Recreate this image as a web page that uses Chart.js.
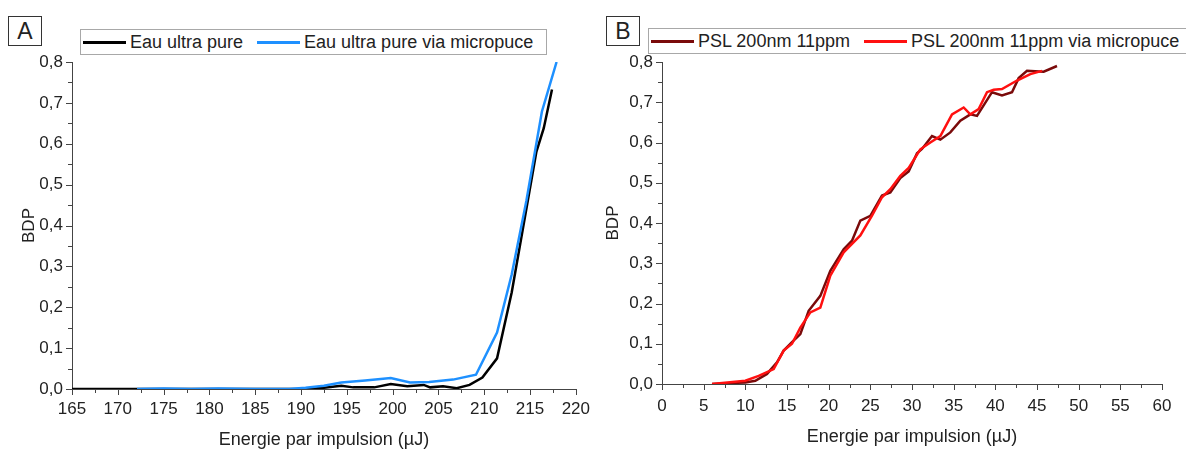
<!DOCTYPE html>
<html>
<head>
<meta charset="utf-8">
<script src="https://cdn.jsdelivr.net/npm/chart.js@4.4.1/dist/chart.umd.min.js"></script>
<style>
  html, body { margin: 0; padding: 0; background: #fff; }
  body { width: 1186px; height: 452px; position: relative; overflow: hidden; font-family: 'Liberation Sans', Arial, sans-serif; color: #222; }
  .panel { position: absolute; top: 0; height: 452px; }
  .tag { position: absolute; border: 1px solid #333; width: 32px; height: 28px; font-size: 23px; line-height: 28px; text-align: center; background: #fff; }
  .legend { position: absolute; height: 24px; border: 1px solid #a8a8a8; background: #fff; display: flex; align-items: center; white-space: nowrap; font-size: 18px; z-index: 2; }
  .legend .item { display: flex; align-items: center; margin-right: 12px; }
  .legend .sw { display: inline-block; width: 43px; height: 3px; margin: 0 4px 0 2px; }
</style>
</head>
<body>
<div class="panel" style="left:0;width:600px"><canvas id="chartA"></canvas></div>
<div class="panel" style="left:600px;width:586px"><canvas id="chartB"></canvas></div>
<div class="tag" style="left:8px;top:16px">A</div>
<div class="tag" style="left:606px;top:16px">B</div>
<div class="legend" id="legendA" style="left:80px;top:29px;width:465px"></div>
<div class="legend" id="legendB" style="left:648px;top:28px;width:560px"></div>
<script>
// Panel A - eau ultra pure
const eauNames = ['Eau ultra pure', 'Eau ultra pure via micropuce'];
const eauX = [165, 168, 172, 175, 180, 185, 188, 190.8, 192.5, 194.4, 195.7, 198, 199.8, 201.6, 203.4, 204.1, 205.5, 207, 208.4, 209.8, 211.4, 213, 215.7, 216.5, 217.4];
const eauY = [0, 0, 0, 0, 0, 0, 0, 0, 0.003, 0.008, 0.004, 0.004, 0.012, 0.007, 0.01, 0.004, 0.007, 0.002, 0.01, 0.028, 0.075, 0.236, 0.581, 0.638, 0.733];
const puceX = [172.1, 175, 178, 181, 185, 188.7, 190.5, 192.5, 194.4, 197, 199.8, 201.9, 204, 206.6, 209.1, 211.4, 213, 214.6, 216.3, 217.9];
const puceY = [0, 0.001, 0, 0.001, 0, 0, 0.003, 0.008, 0.016, 0.021, 0.027, 0.016, 0.017, 0.023, 0.035, 0.138, 0.28, 0.46, 0.679, 0.80];

// Panel B - PSL 200nm 11ppm
const pslNames = ['PSL 200nm 11ppm', 'PSL 200nm 11ppm via micropuce'];
const pslX = [6, 10, 11.2, 12.6, 13.8, 14.6, 15.6, 16.6, 17.6, 19, 20.2, 21.8, 22.8, 23.8, 25, 26.4, 27.4, 28.6, 29.6, 30.6, 31.2, 32.4, 33.4, 34.6, 35.8, 37, 37.8, 39.6, 40.8, 42, 42.8, 43.8, 45.8, 47.4];
const pslY = [0, 0.004, 0.008, 0.025, 0.054, 0.083, 0.104, 0.124, 0.182, 0.219, 0.281, 0.335, 0.356, 0.406, 0.418, 0.468, 0.476, 0.512, 0.528, 0.573, 0.584, 0.616, 0.607, 0.625, 0.654, 0.67, 0.666, 0.725, 0.717, 0.725, 0.76, 0.778, 0.776, 0.79];
const pslPuceX = [6, 10, 11.6, 13.4, 14.6, 15.6, 16.6, 17.8, 19, 20.2, 21.8, 23.8, 25.2, 26.4, 27.4, 28.6, 29.6, 31, 32.2, 33.4, 34.8, 36.2, 37, 38, 39, 39.8, 40.8, 42.6, 44.2, 45.6];
const pslPuceY = [0, 0.008, 0.02, 0.037, 0.083, 0.1, 0.14, 0.178, 0.19, 0.269, 0.327, 0.369, 0.418, 0.464, 0.484, 0.517, 0.537, 0.583, 0.6, 0.616, 0.67, 0.687, 0.67, 0.683, 0.725, 0.731, 0.733, 0.754, 0.77, 0.778];

const colorsA = ['#000000', '#1e90ff'];
const colorsB = ['#7a0a0a', '#ff1010'];
const FONT = "'Liberation Sans', Arial, sans-serif";

function pts(xs, ys) {
    return xs.map((x, i) => ({ x: x, y: ys[i] }));
}

function isMajor(v, step) {
    const r = v / step;
    return Math.abs(r - Math.round(r)) < 1e-6;
}

// petits traits de graduation (majeurs + mineurs)
const tickMarks = {
    id: 'tickMarks',
    afterDraw(chart) {
        const ctx = chart.ctx;
        ctx.save();
        ctx.strokeStyle = '#444';
        ctx.lineWidth = 1;
        const xs = chart.scales.x, ys = chart.scales.y;
        xs.ticks.forEach(t => {
            const p = Math.round(xs.getPixelForValue(t.value)) + 0.5;
            const len = isMajor(t.value, 5) ? 6 : 4;
            ctx.beginPath();
            ctx.moveTo(p, xs.top);
            ctx.lineTo(p, xs.top + len);
            ctx.stroke();
        });
        ys.ticks.forEach(t => {
            const p = Math.round(ys.getPixelForValue(t.value)) + 0.5;
            const len = isMajor(t.value, 0.1) ? 6 : 4;
            ctx.beginPath();
            ctx.moveTo(ys.right, p);
            ctx.lineTo(ys.right - len, p);
            ctx.stroke();
        });
        ctx.restore();
    }
};

function makeChart(id, names, series, colors, xMin, xMax, sizes) {
    const datasets = series.map((s, i) => ({
        label: names[i],
        data: pts(s[0], s[1]),
        borderColor: colors[i],
        borderWidth: 2.5,
        pointRadius: 0,
        tension: 0,
        fill: false,
        order: series.length - i
    }));

    return new Chart(document.getElementById(id), {
        type: 'line',
        data: { datasets: datasets },
        plugins: [tickMarks],
        options: {
            responsive: false,
            animation: false,
            events: [],
            layout: { padding: { top: 62, right: sizes.right, left: 0, bottom: 0 } },
            plugins: { legend: { display: false }, tooltip: { enabled: false } },
            scales: {
                x: {
                    type: 'linear',
                    min: xMin,
                    max: xMax,
                    border: { display: true, color: '#444', width: 1 },
                    grid: { display: false, drawTicks: false },
                    ticks: {
                        stepSize: 2.5,
                        autoSkip: false,
                        maxRotation: 0,
                        padding: sizes.xPad,
                        color: '#222',
                        font: { family: FONT, size: 17 },
                        callback: v => isMajor(v, 5) ? String(Math.round(v)) : ''
                    },
                    title: {
                        display: true,
                        text: 'Energie par impulsion (µJ)',
                        color: '#222',
                        font: { family: FONT, size: 18 },
                        padding: { top: 0, bottom: sizes.titlePad }
                    },
                    afterFit: s => { s.height = sizes.xHeight; }
                },
                y: {
                    min: 0,
                    max: 0.8,
                    border: { display: true, color: '#444', width: 1 },
                    grid: { display: false, drawTicks: false },
                    ticks: {
                        stepSize: 0.05,
                        autoSkip: false,
                        padding: 9,
                        color: '#222',
                        font: { family: FONT, size: 17 },
                        callback: v => isMajor(v, 0.1) ? v.toFixed(1).replace('.', ',') : ''
                    },
                    title: {
                        display: true,
                        text: 'BDP',
                        color: '#222',
                        font: { family: FONT, size: 17 },
                        padding: { top: sizes.yTitlePad, bottom: 0 }
                    },
                    afterFit: s => { s.width = sizes.yWidth; }
                }
            }
        }
    });
}

function makeLegend(id, names, colors) {
    const box = document.getElementById(id);
    names.forEach((name, i) => {
        const item = document.createElement('span');
        item.className = 'item';
        const sw = document.createElement('span');
        sw.className = 'sw';
        sw.style.background = colors[i];
        item.appendChild(sw);
        item.appendChild(document.createTextNode(name));
        box.appendChild(item);
    });
}

const cA = document.getElementById('chartA');
cA.width = 600; cA.height = 452;
const cB = document.getElementById('chartB');
cB.width = 586; cB.height = 452;

makeChart('chartA', eauNames, [[eauX, eauY], [puceX, puceY]], colorsA, 165, 220,
    { right: 16, yWidth: 72, xHeight: 63, xPad: 10, titlePad: 1, yTitlePad: 19 });
makeChart('chartB', pslNames, [[pslX, pslY], [pslPuceX, pslPuceY]], colorsB, 0, 60,
    { right: 24, yWidth: 62, xHeight: 68, xPad: 12, titlePad: 4, yTitlePad: 3 });

makeLegend('legendA', eauNames, colorsA);
makeLegend('legendB', pslNames, colorsB);
</script>
</body>
</html>
